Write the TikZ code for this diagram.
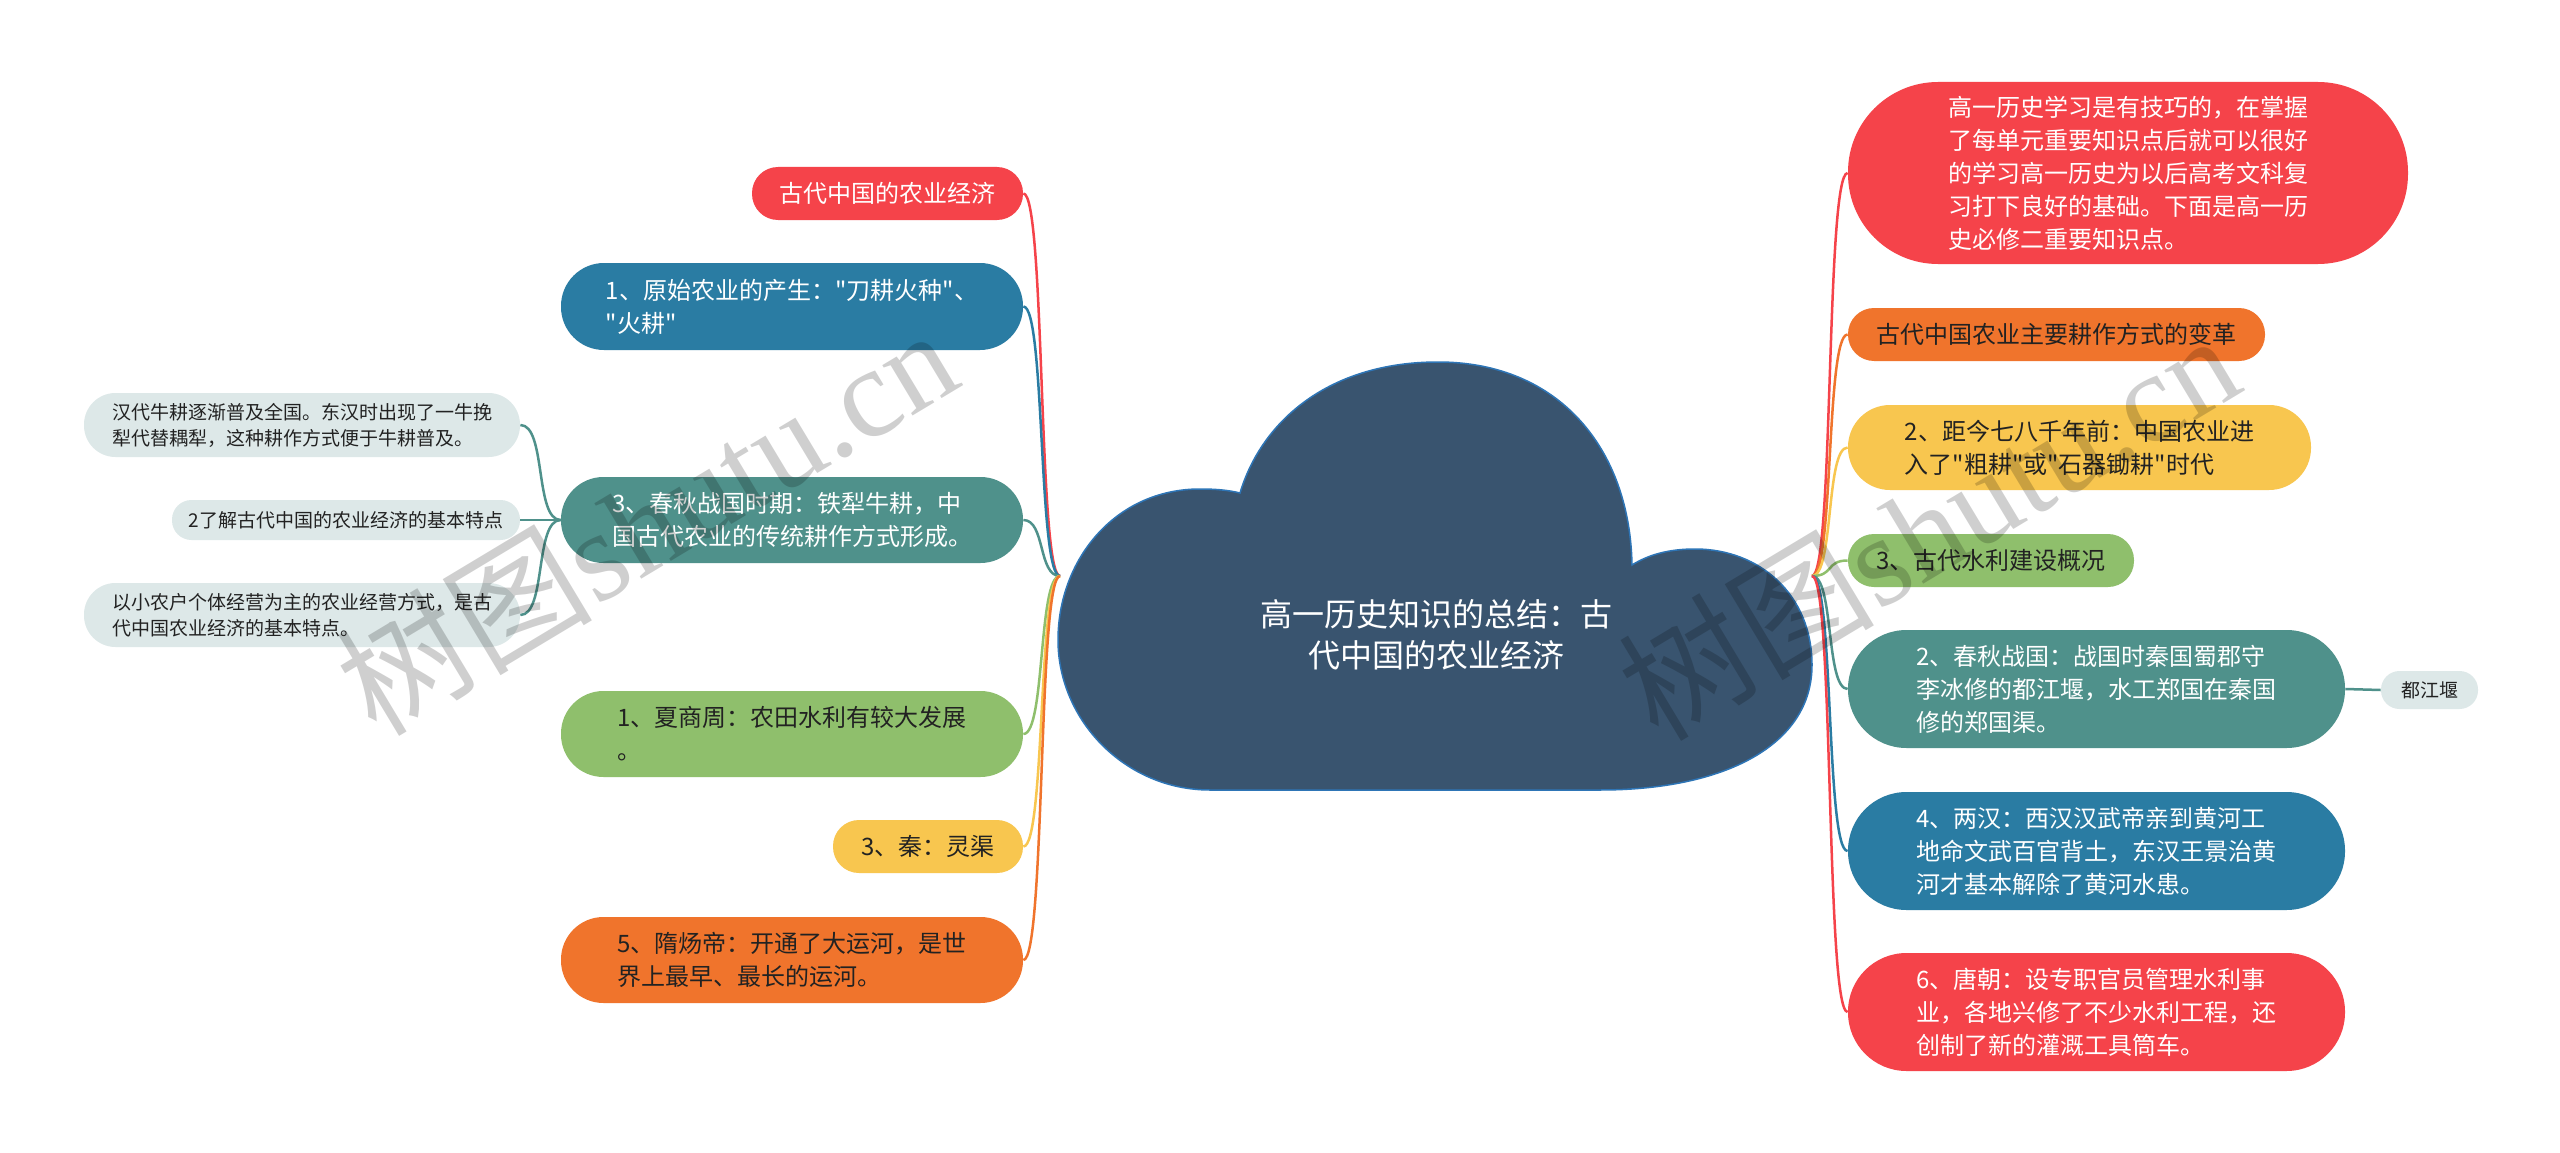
\documentclass[tikz,border=0pt]{standalone}
\usepackage{fontspec}
\setmainfont{Noto Sans CJK SC}[Ligatures=TeXOff]
\newfontfamily\wmfont{Liberation Serif}

\definecolor{redc}{RGB}{245,67,74}
\definecolor{bluec}{RGB}{42,124,163}
\definecolor{tealc}{RGB}{79,145,139}
\definecolor{greenc}{RGB}{143,191,108}
\definecolor{yellowc}{RGB}{248,198,79}
\definecolor{orangec}{RGB}{240,116,44}
\definecolor{leafc}{RGB}{221,232,232}
\definecolor{cloudc}{RGB}{57,84,111}
\definecolor{cloudline}{RGB}{46,117,182}
\definecolor{darktext}{RGB}{34,34,34}

\tikzset{every picture/.style={line width=0.75pt}}
\tikzset{
pill/.style={inner sep=0pt, align=left, font=\fontsize{24}{33}\selectfont},
leaf/.style={fill=leafc, text=darktext, inner sep=0pt, align=left, font=\fontsize{19}{26}\selectfont},
link/.style={draw=#1, line width=2.5pt},
wmark/.style={text=black, text opacity=0.19, rotate=31, inner sep=0pt, font=\fontsize{128}{128}\selectfont}}

\begin{document}
\begin{tikzpicture}[x=1pt,y=1pt,yscale=-1,xscale=1]
\useasboundingbox (0,0) rectangle (2560,1153);
\fill[white] (0,0) rectangle (2560,1153);

%Shape: Cloud
\draw [fill=cloudc, draw=cloudline, line width=1.5pt] (1210,790) -- (1600,790) .. controls (1725,790) and (1812,745) .. (1812,665) .. controls (1812,595) and (1760,549) .. (1695,549) .. controls (1668,549) and (1648,555) .. (1632,565) .. controls (1630,450) and (1560,362) .. (1438,362) .. controls (1330,362) and (1262,420) .. (1240,493) .. controls (1228,490) and (1215,489) .. (1200,489) .. controls (1115,489) and (1058,560) .. (1058,640) .. controls (1058,720) and (1125,790) .. (1210,790) -- cycle ;
\coordinate (lroot) at (1060,576);
\coordinate (rroot) at (1812,576);
% Text Node
\node (root) at (1436,635) [text=white, align=center, font=\fontsize{32}{41}\selectfont] {高一历史知识的总结：古\\代中国的农业经济};

% Text Node
\node (l0) at (887.5,193.5) [pill, fill=redc, text=white, minimum width=271pt, minimum height=53pt, rounded corners=26pt] {古代中国的农业经济};
% Text Node
\node (l1) at (792,306.5) [pill, fill=bluec, text=white, minimum width=462pt, minimum height=87pt, rounded corners=43pt] {1、原始农业的产生："刀耕火种"、\\"火耕"};
% Text Node
\node (l2) at (792,520) [pill, fill=tealc, text=white, minimum width=462pt, minimum height=86pt, rounded corners=42.5pt] {3、春秋战国时期：铁犁牛耕，中\\国古代农业的传统耕作方式形成。};
% Text Node
\node (l2a) at (302,425) [leaf, minimum width=436pt, minimum height=64pt, rounded corners=31.5pt] {汉代牛耕逐渐普及全国。东汉时出现了一牛挽\\犁代替耦犁，这种耕作方式便于牛耕普及。};
% Text Node
\node (l2b) at (346,520) [leaf, minimum width=348pt, minimum height=40pt, rounded corners=19.5pt] {2了解古代中国的农业经济的基本特点};
% Text Node
\node (l2c) at (302,615) [leaf, minimum width=436pt, minimum height=64pt, rounded corners=31.5pt] {以小农户个体经营为主的农业经营方式，是古\\代中国农业经济的基本特点。};
% Text Node
\node (l3) at (792,734) [pill, fill=greenc, text=darktext, minimum width=462pt, minimum height=86pt, rounded corners=42.5pt] {1、夏商周：农田水利有较大发展\\。};
% Text Node
\node (l4) at (928,846.5) [pill, fill=yellowc, text=darktext, minimum width=190pt, minimum height=53pt, rounded corners=26pt] {3、秦：灵渠};
% Text Node
\node (l5) at (792,960) [pill, fill=orangec, text=darktext, minimum width=462pt, minimum height=86pt, rounded corners=42.5pt] {5、隋炀帝：开通了大运河，是世\\界上最早、最长的运河。};

% Text Node
\node (r0) at (2128,173) [pill, fill=redc, text=white, minimum width=560pt, minimum height=182pt, rounded corners=90pt] {高一历史学习是有技巧的，在掌握\\了每单元重要知识点后就可以很好\\的学习高一历史为以后高考文科复\\习打下良好的基础。下面是高一历\\史必修二重要知识点。};
% Text Node
\node (r1) at (2056.5,334.5) [pill, fill=orangec, text=darktext, minimum width=417pt, minimum height=53pt, rounded corners=26pt] {古代中国农业主要耕作方式的变革};
% Text Node
\node (r2) at (2079.5,447.5) [pill, fill=yellowc, text=darktext, minimum width=463pt, minimum height=85pt, rounded corners=42pt] {2、距今七八千年前：中国农业进\\入了"粗耕"或"石器锄耕"时代};
% Text Node
\node (r3) at (1991,560.5) [pill, fill=greenc, text=darktext, minimum width=286pt, minimum height=53pt, rounded corners=26pt] {3、古代水利建设概况};
% Text Node
\node (r4) at (2096.5,689) [pill, fill=tealc, text=white, minimum width=497pt, minimum height=118pt, rounded corners=58.5pt] {2、春秋战国：战国时秦国蜀郡守\\李冰修的都江堰，水工郑国在秦国\\修的郑国渠。};
% Text Node
\node (r4a) at (2429.5,690) [leaf, minimum width=97pt, minimum height=38pt, rounded corners=18.5pt] {都江堰};
% Text Node
\node (r5) at (2096.5,851) [pill, fill=bluec, text=white, minimum width=497pt, minimum height=118pt, rounded corners=58.5pt] {4、两汉：西汉汉武帝亲到黄河工\\地命文武百官背土，东汉王景治黄\\河才基本解除了黄河水患。};
% Text Node
\node (r6) at (2096.5,1012) [pill, fill=redc, text=white, minimum width=497pt, minimum height=118pt, rounded corners=58.5pt] {6、唐朝：设专职官员管理水利事\\业，各地兴修了不少水利工程，还\\创制了新的灌溉工具筒车。};

%Curve Lines
\draw [link=redc] (lroot) .. controls +(-22,0) and +(22,0) .. (l0.east) ;
\draw [link=bluec] (lroot) .. controls +(-22,0) and +(22,0) .. (l1.east) ;
\draw [link=tealc] (lroot) .. controls +(-22,0) and +(22,0) .. (l2.east) ;
\draw [link=greenc] (lroot) .. controls +(-22,0) and +(22,0) .. (l3.east) ;
\draw [link=yellowc] (lroot) .. controls +(-22,0) and +(22,0) .. (l4.east) ;
\draw [link=orangec] (lroot) .. controls +(-22,0) and +(22,0) .. (l5.east) ;
\draw [link=tealc] (l2.west) .. controls +(-26,0) and +(26,0) .. (l2a.east) ;
\draw [link=tealc] (l2.west) -- (l2b.east) ;
\draw [link=tealc] (l2.west) .. controls +(-26,0) and +(26,0) .. (l2c.east) ;

\draw [link=redc] (rroot) .. controls +(22,0) and +(-22,0) .. (r0.west) ;
\draw [link=orangec] (rroot) .. controls +(22,0) and +(-22,0) .. (r1.west) ;
\draw [link=yellowc] (rroot) .. controls +(22,0) and +(-22,0) .. (r2.west) ;
\draw [link=greenc] (rroot) .. controls +(22,0) and +(-22,0) .. (r3.west) ;
\draw [link=tealc] (rroot) .. controls +(22,0) and +(-22,0) .. (r4.west) ;
\draw [link=bluec] (rroot) .. controls +(22,0) and +(-22,0) .. (r5.west) ;
\draw [link=redc] (rroot) .. controls +(22,0) and +(-22,0) .. (r6.west) ;
\draw [link=tealc] (r4.east) -- (r4a.west) ;

% Text Node
\node (wm1) at (646,520) [wmark] {树图\wmfont shutu.cn};
% Text Node
\node (wm2) at (1928,525) [wmark] {树图\wmfont shutu.cn};

\end{tikzpicture}
\end{document}
